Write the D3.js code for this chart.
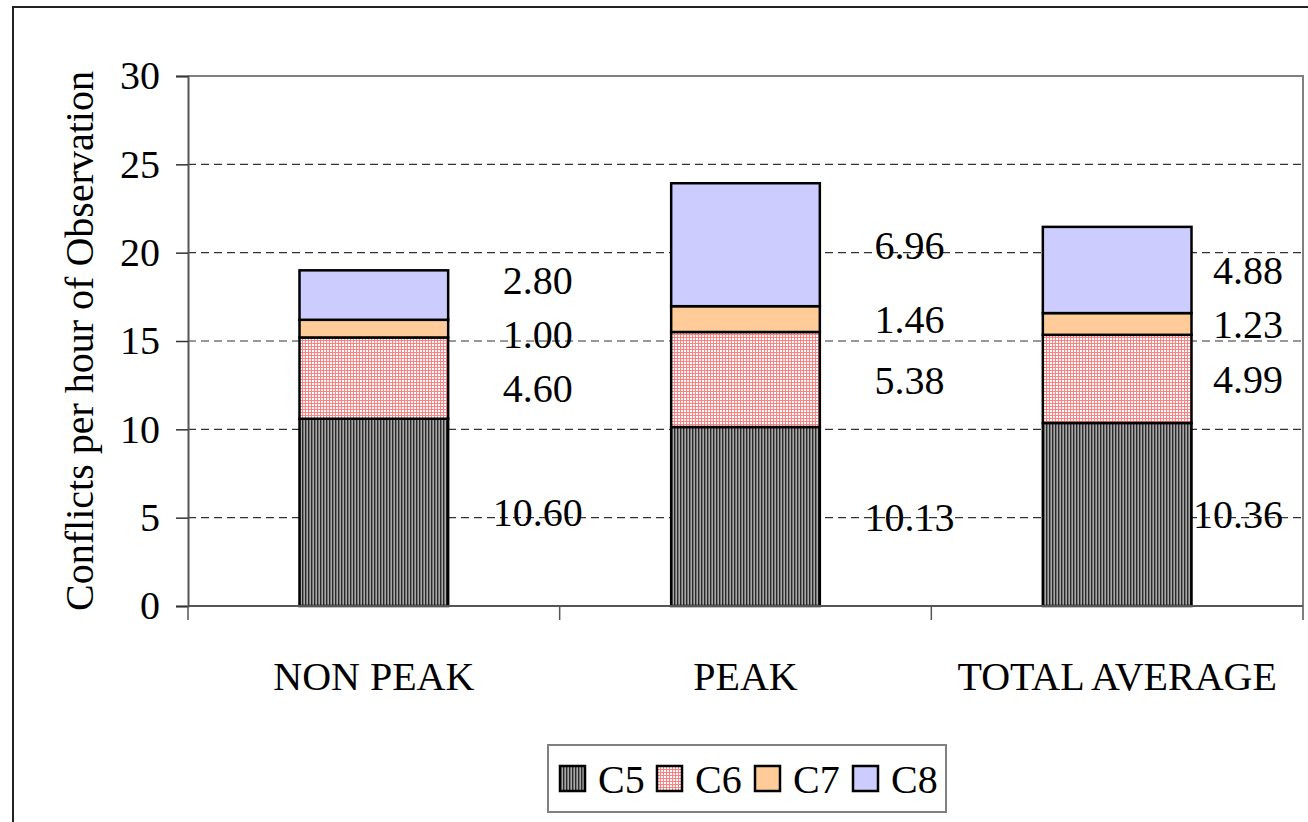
<!DOCTYPE html>
<meta charset="utf-8">
<style>
    body { margin: 0; background: #fff; }
    text { font-family: "Liberation Serif", "Times New Roman", serif; fill: #000; }
</style>
<script src="https://d3js.org/d3.v7.min.js"></script>
<svg width="1308" height="822"></svg>
<script>
    // data
    let categories = ["NON PEAK", "PEAK", "TOTAL AVERAGE"];
    let seriesNames = ["C5", "C6", "C7", "C8"];
    let c5 = [10.60, 10.13, 10.36];
    let c6 = [4.60, 5.38, 4.99];
    let c7 = [1.00, 1.46, 1.23];
    let c8 = [2.80, 6.96, 4.88];
    let yTicks = [0, 5, 10, 15, 20, 25, 30];

    let svg = d3.select("svg");
    let width = +svg.attr("width");
    let margin = {top: 76, right: 5, bottom: 216, left: 188};
    let plotW = width - margin.left - margin.right;
    let plotH = +svg.attr("height") - margin.top - margin.bottom;

    let defs = svg.append("defs");
    let p5 = defs.append("pattern").attr("id", "pat-c5")
        .attr("patternUnits", "userSpaceOnUse").attr("width", 3).attr("height", 3);
    p5.append("rect").attr("width", 3).attr("height", 3).attr("fill", "#a8a8a8");
    p5.append("rect").attr("width", 1.4).attr("height", 3).attr("fill", "#2a2a2a");
    let p6 = defs.append("pattern").attr("id", "pat-c6")
        .attr("patternUnits", "userSpaceOnUse").attr("width", 3).attr("height", 3);
    p6.append("rect").attr("width", 3).attr("height", 3).attr("fill", "#fff");
    p6.append("rect").attr("width", 1).attr("height", 3).attr("fill", "#ff8080");
    p6.append("rect").attr("width", 3).attr("height", 1).attr("fill", "#ff8080");

    let fills = ["url(#pat-c5)", "url(#pat-c6)", "#ffcc99", "#ccccff"];

    // outer chart frame
    svg.append("rect").attr("x", 13).attr("y", 7).attr("width", 1400).attr("height", 900)
        .attr("fill", "none").attr("stroke", "#222").attr("stroke-width", 2);

    let g = svg.append("g").attr("transform", "translate(" + margin.left + "," + margin.top + ")");

    let x = d3.scaleBand().domain(categories).range([0, plotW]).paddingInner(0).paddingOuter(0);
    let y = d3.scaleLinear().domain([0, 30]).range([plotH, 0]);
    let barW = x.bandwidth() * 0.4;

    // plot border (top and right)
    g.append("path")
        .attr("d", "M0," + y(30) + "H" + plotW + "V" + y(0))
        .attr("fill", "none").attr("stroke", "#808080").attr("stroke-width", 2);

    // gridlines
    g.selectAll(".grid").data(yTicks.filter(function(d) { return d > 0 && d < 30; }))
        .enter().append("line")
        .attr("x1", 0).attr("x2", plotW)
        .attr("y1", function(d) { return y(d); }).attr("y2", function(d) { return y(d); })
        .attr("stroke", "#333").attr("stroke-width", 1.2).attr("stroke-dasharray", "8,5");

    // stacked data
    let table = categories.map(function(c, i) {
        return {cat: c, C5: c5[i], C6: c6[i], C7: c7[i], C8: c8[i]};
    });
    let stack = d3.stack().keys(seriesNames)(table);

    let layers = g.selectAll(".layer").data(stack).enter().append("g")
        .attr("fill", function(d, i) { return fills[i]; });
    layers.selectAll("rect").data(function(d) { return d; }).enter().append("rect")
        .attr("x", function(d) { return x(d.data.cat) + (x.bandwidth() - barW) / 2; })
        .attr("width", barW)
        .attr("y", function(d) { return y(d[1]); })
        .attr("height", function(d) { return y(d[0]) - y(d[1]); })
        .attr("stroke", "#000").attr("stroke-width", 2.5);

    // value labels: start at segment middle, then spread apart so they don't collide
    let minGap = 54;
    let labelGroup = g.append("g");
    categories.forEach(function(cat, ci) {
        let labs = stack.map(function(s) {
            return {text: s[ci].data[s.key].toFixed(2), y: y((s[ci][0] + s[ci][1]) / 2)};
        });
        for (let it = 0; it < 50; it++) {
            for (let k = 0; k < labs.length - 1; k++) {
                let d = labs[k].y - labs[k + 1].y;
                if (d < minGap) {
                    let push = (minGap - d) / 2;
                    labs[k].y += push;
                    labs[k + 1].y -= push;
                }
            }
        }
        labs.forEach(function(l) {
            let t = labelGroup.append("text")
                .attr("y", l.y).attr("dy", "0.35em")
                .attr("text-anchor", "middle")
                .style("font-size", "40px")
                .text(l.text);
            let w = t.node().getComputedTextLength();
            let cx = x(cat) + x.bandwidth() / 2 + 164;
            t.attr("x", Math.min(cx, plotW - 20 - w / 2));
        });
    });

    // y axis
    let yAxis = g.append("g")
        .call(d3.axisLeft(y).tickValues(yTicks).tickSize(12).tickPadding(16).tickFormat(d3.format("d")));
    yAxis.select(".domain").attr("stroke", "#555").attr("stroke-width", 2);
    yAxis.selectAll(".tick line").attr("stroke", "#333").attr("stroke-width", 1.5);
    yAxis.selectAll(".tick text").style("font-size", "40px").attr("font-family", null);

    // x axis
    let xAxis = g.append("g").attr("transform", "translate(0," + plotH + ")");
    xAxis.append("line").attr("x1", 0).attr("x2", plotW).attr("stroke", "#555").attr("stroke-width", 2);
    xAxis.selectAll(".xtick").data(d3.range(categories.length + 1)).enter().append("line")
        .attr("x1", function(i) { return i * x.step(); }).attr("x2", function(i) { return i * x.step(); })
        .attr("y1", 0).attr("y2", 14)
        .attr("stroke", "#555").attr("stroke-width", 1.5);
    xAxis.selectAll("text").data(categories).enter().append("text")
        .attr("x", function(d) { return x(d) + x.bandwidth() / 2; })
        .attr("y", 84)
        .attr("text-anchor", "middle")
        .style("font-size", "40px")
        .text(function(d) { return d; });

    // y title
    svg.append("text")
        .attr("transform", "translate(93," + (margin.top + plotH / 2) + ") rotate(-90)")
        .attr("text-anchor", "middle")
        .style("font-size", "40px")
        .text("Conflicts per hour of Observation");

    // legend
    let legend = svg.append("g").attr("transform", "translate(548,745)");
    legend.append("rect").attr("width", 398).attr("height", 67)
        .attr("fill", "#fff").attr("stroke", "#808080").attr("stroke-width", 2);
    let itemX = [12, 109, 207, 305];
    let items = legend.selectAll(".item").data(seriesNames).enter().append("g")
        .attr("transform", function(d, i) { return "translate(" + itemX[i] + ",0)"; });
    items.append("rect").attr("y", 21).attr("width", 25).attr("height", 25)
        .attr("fill", function(d, i) { return fills[i]; })
        .attr("stroke", "#000").attr("stroke-width", 2.5);
    items.append("text").attr("x", 38).attr("y", 48)
        .style("font-size", "40px")
        .text(function(d) { return d; });
</script>
